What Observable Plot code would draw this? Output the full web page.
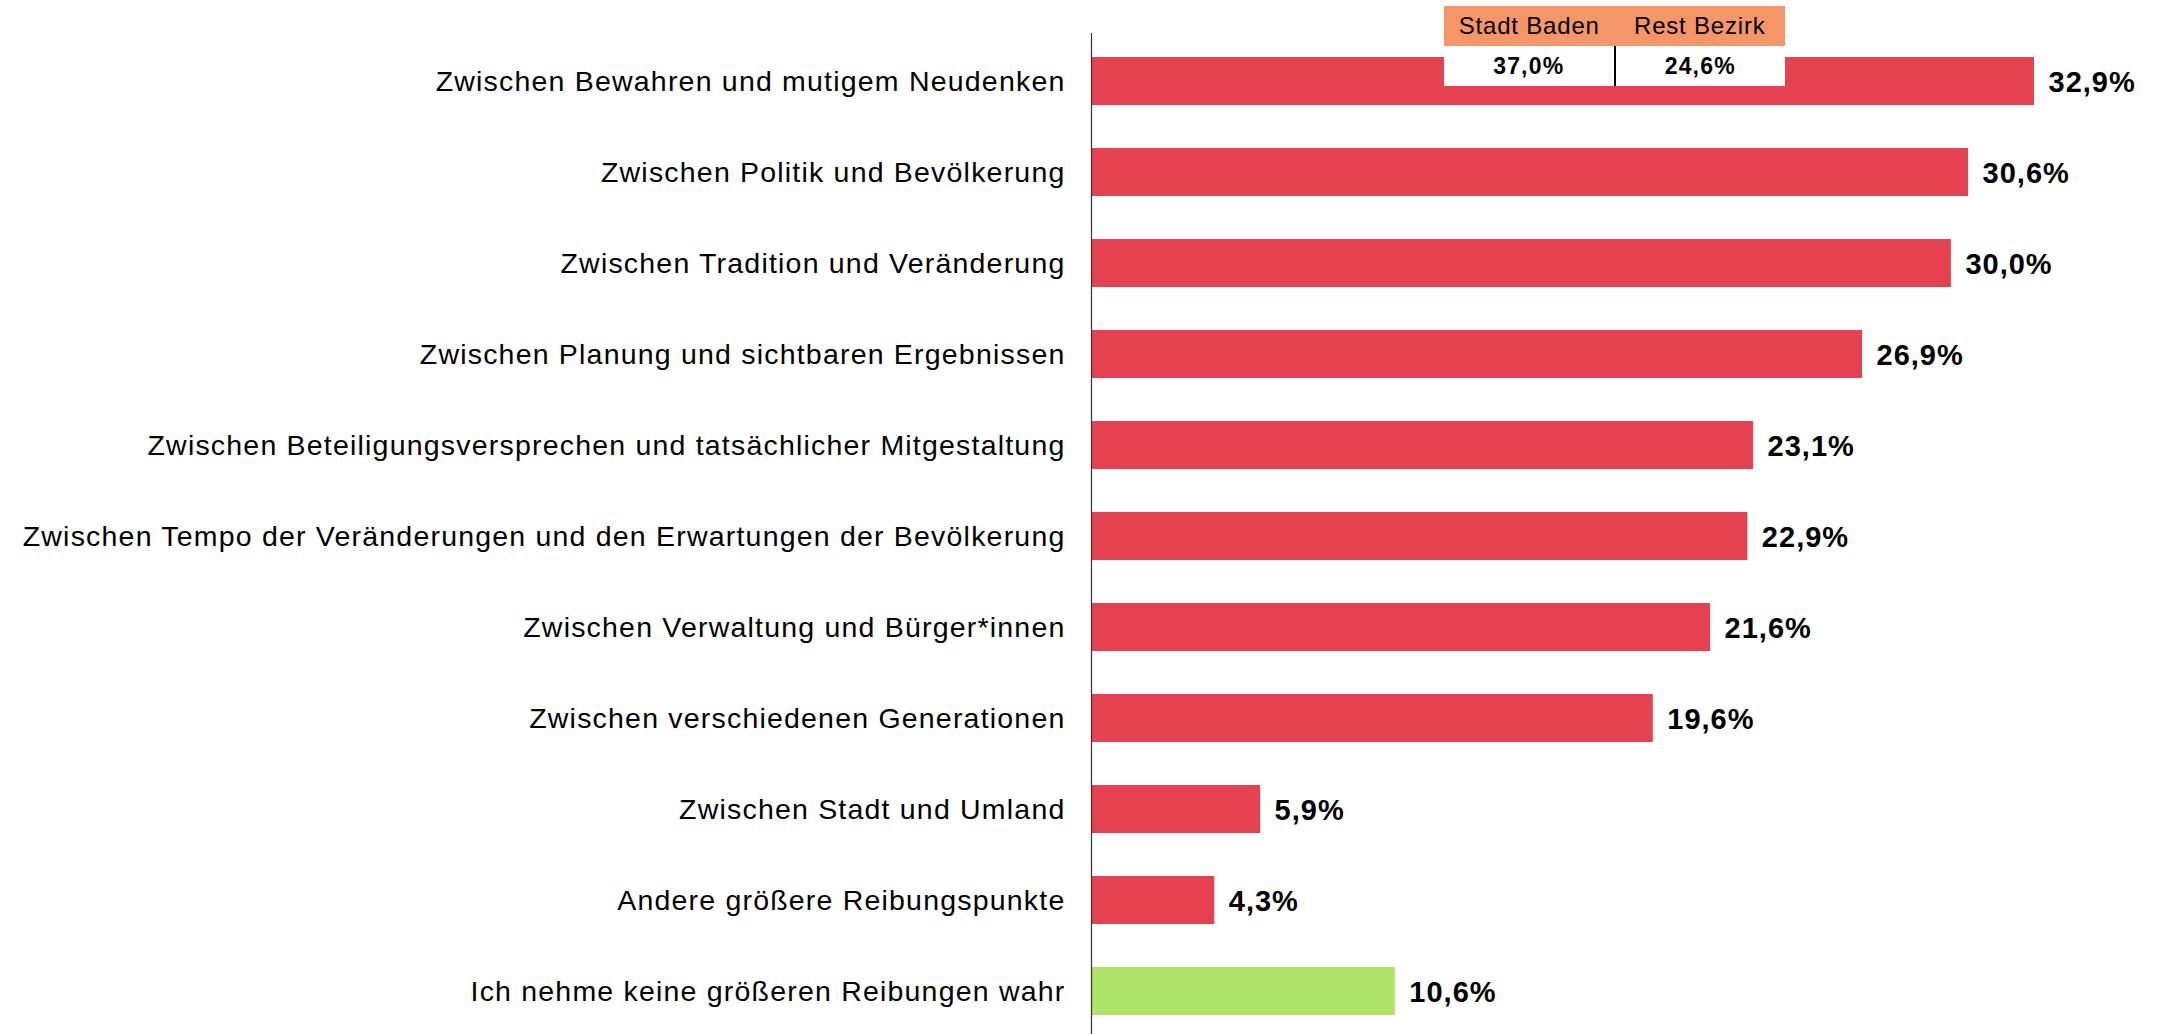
<!DOCTYPE html>
<html>
<head>
<meta charset="utf-8">
<script src="https://cdn.jsdelivr.net/npm/d3@7"></script>
<script src="https://cdn.jsdelivr.net/npm/@observablehq/plot@0.6"></script>
<style>
  html, body { margin: 0; padding: 0; background: #fff; overflow: hidden; }
  body { width: 2159px; height: 1034px; position: relative; font-family: "Liberation Sans", Arial, sans-serif; color: #000; }
  #chart svg { display: block; }
  #chart g[aria-label="y-axis tick label"] text { letter-spacing: 1.2px; }
  #chart g[aria-label="text"] text { letter-spacing: 1px; }
  #inset { position: absolute; left: 1444px; top: 6px; width: 341px; }
  #inset .row { display: flex; }
  #inset .head { background: #F59669; height: 40px; }
  #inset .vals { background: #fff; height: 40px; }
  #inset .cell { flex: 1; display: flex; align-items: center; justify-content: center; }
  #inset .head .cell { font-size: 24px; letter-spacing: 0.8px; }
  #inset .vals .cell { font-size: 23px; font-weight: bold; letter-spacing: 1.2px; }
  #inset .vals .cell + .cell { border-left: 2px solid #000; }
</style>
</head>
<body>
<div id="chart"></div>
<div id="inset"></div>
<script>
const categories = [
  "Zwischen Bewahren und mutigem Neudenken",
  "Zwischen Politik und Bevölkerung",
  "Zwischen Tradition und Veränderung",
  "Zwischen Planung und sichtbaren Ergebnissen",
  "Zwischen Beteiligungsversprechen und tatsächlicher Mitgestaltung",
  "Zwischen Tempo der Veränderungen und den Erwartungen der Bevölkerung",
  "Zwischen Verwaltung und Bürger*innen",
  "Zwischen verschiedenen Generationen",
  "Zwischen Stadt und Umland",
  "Andere größere Reibungspunkte",
  "Ich nehme keine größeren Reibungen wahr"
];
const values = [32.9, 30.6, 30.0, 26.9, 23.1, 22.9, 21.6, 19.6, 5.9, 4.3, 10.6];
const groups = ["Reibung", "Reibung", "Reibung", "Reibung", "Reibung", "Reibung", "Reibung", "Reibung", "Reibung", "Reibung", "Keine"];

const insetHeaders = ["Stadt Baden", "Rest Bezirk"];
const insetValues = [37.0, 24.6];

const locale = d3.formatLocale({decimal: ",", thousands: ".", grouping: [3], currency: ["", "€"]});
const fmt = v => locale.format(".1f")(v) + "%";

const data = categories.map((c, i) => ({category: c, value: values[i], group: groups[i]}));

const chart = Plot.plot({
  width: 2159,
  height: 1040,
  marginTop: 33,
  marginBottom: 1,
  marginLeft: 1091,
  marginRight: 125,
  style: {fontFamily: "Liberation Sans, Arial, sans-serif", fontSize: "28.5px", color: "#000", background: "#fff"},
  x: {domain: [0, d3.max(values)], axis: null},
  y: {domain: categories, paddingInner: 0.47, paddingOuter: 0.235, label: null},
  color: {domain: ["Reibung", "Keine"], range: ["#E54150", "#B0E468"]},
  marks: [
    Plot.barX(data, {y: "category", x: "value", fill: "group"}),
    Plot.text(data, {y: "category", x: "value", text: d => fmt(d.value), textAnchor: "start", dx: 14, dy: 1, fontWeight: "bold", fontSize: 29, fill: "#000"}),
    Plot.axisY({tickSize: 0, tickPadding: 26, fontSize: 28.5, label: null}),
    Plot.ruleX([0], {stroke: "#333", strokeWidth: 1.2})
  ]
});
document.getElementById("chart").appendChild(chart);

const inset = document.getElementById("inset");
const head = document.createElement("div");
head.className = "row head";
insetHeaders.forEach(h => { const c = document.createElement("div"); c.className = "cell"; c.textContent = h; head.appendChild(c); });
const vals = document.createElement("div");
vals.className = "row vals";
insetValues.forEach(v => { const c = document.createElement("div"); c.className = "cell"; c.textContent = fmt(v); vals.appendChild(c); });
inset.appendChild(head);
inset.appendChild(vals);
</script>
</body>
</html>
